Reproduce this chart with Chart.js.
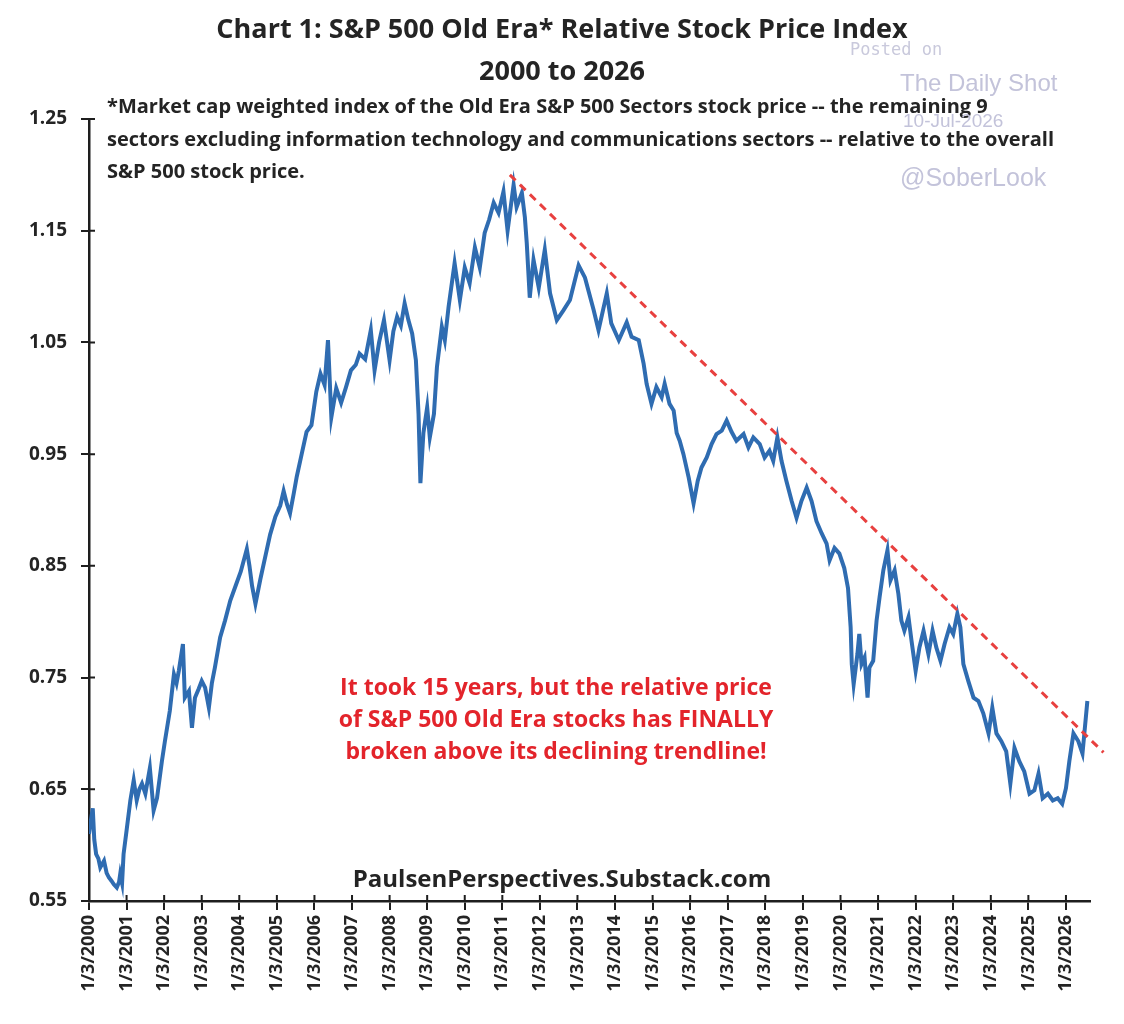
<!DOCTYPE html>
<html>
<head>
<meta charset="utf-8">
<script src="https://cdn.jsdelivr.net/npm/chart.js@4/dist/chart.umd.min.js"></script>
<style>
  body { margin: 0; background: #fff; }
  canvas { display: block; }
</style>
</head>
<body>
<canvas id="chart" width="1124" height="1024"></canvas>
<script>
// data (decimal year, relative index)
const dates = [
  2000.00, 2000.05, 2000.10, 2000.14, 2000.19, 2000.25, 2000.30, 2000.40, 2000.47, 2000.53,
  2000.60, 2000.66, 2000.74, 2000.80, 2000.83, 2000.88, 2000.92, 2001.00, 2001.10, 2001.19,
  2001.27, 2001.34, 2001.41, 2001.50, 2001.62, 2001.72, 2001.81, 2001.94, 2002.02, 2002.15,
  2002.26, 2002.33, 2002.39, 2002.50, 2002.55, 2002.66, 2002.74, 2002.82, 2002.92, 2003.00,
  2003.09, 2003.19, 2003.27, 2003.35, 2003.49, 2003.62, 2003.76, 2003.90, 2004.04, 2004.20,
  2004.27, 2004.34, 2004.43, 2004.56, 2004.69, 2004.82, 2004.96, 2005.09, 2005.18, 2005.27,
  2005.35, 2005.45, 2005.53, 2005.66, 2005.79, 2005.92, 2006.05, 2006.16, 2006.27, 2006.36,
  2006.45, 2006.58, 2006.71, 2006.84, 2006.97, 2007.10, 2007.20, 2007.35, 2007.50, 2007.60,
  2007.72, 2007.85, 2008.00, 2008.10, 2008.20, 2008.30, 2008.40, 2008.50, 2008.60, 2008.70,
  2008.77, 2008.82, 2008.90, 2009.00, 2009.07, 2009.18, 2009.26, 2009.39, 2009.47, 2009.57,
  2009.73, 2009.87, 2010.00, 2010.13, 2010.27, 2010.40, 2010.53, 2010.65, 2010.77, 2010.90,
  2011.03, 2011.14, 2011.30, 2011.38, 2011.52, 2011.60, 2011.65, 2011.73, 2011.83, 2011.97,
  2012.13, 2012.27, 2012.45, 2012.63, 2012.80, 2013.03, 2013.20, 2013.43, 2013.56, 2013.78,
  2013.90, 2014.10, 2014.31, 2014.44, 2014.63, 2014.76, 2014.84, 2014.97, 2015.10, 2015.24,
  2015.32, 2015.45, 2015.56, 2015.64, 2015.72, 2015.82, 2015.96, 2016.09, 2016.20, 2016.30,
  2016.44, 2016.57, 2016.70, 2016.84, 2016.97, 2017.10, 2017.23, 2017.42, 2017.55, 2017.68,
  2017.85, 2017.98, 2018.11, 2018.21, 2018.32, 2018.43, 2018.56, 2018.70, 2018.83, 2018.96,
  2019.10, 2019.23, 2019.36, 2019.50, 2019.63, 2019.71, 2019.84, 2019.97, 2020.10, 2020.20,
  2020.27, 2020.30, 2020.35, 2020.45, 2020.50, 2020.56, 2020.64, 2020.72, 2020.77, 2020.87,
  2020.96, 2021.04, 2021.14, 2021.25, 2021.33, 2021.44, 2021.54, 2021.62, 2021.70, 2021.81,
  2021.89, 2022.00, 2022.10, 2022.21, 2022.34, 2022.45, 2022.55, 2022.66, 2022.77, 2022.90,
  2023.00, 2023.11, 2023.19, 2023.27, 2023.40, 2023.54, 2023.67, 2023.80, 2023.94, 2024.04,
  2024.15, 2024.28, 2024.41, 2024.52, 2024.63, 2024.76, 2024.89, 2025.03, 2025.16, 2025.27,
  2025.38, 2025.52, 2025.65, 2025.78, 2025.90, 2026.00, 2026.09, 2026.20, 2026.33, 2026.44,
  2026.49, 2026.57
];
const relPrice = [
  0.610, 0.622, 0.633, 0.605, 0.592, 0.588, 0.580, 0.586, 0.575, 0.571,
  0.568, 0.565, 0.562, 0.567, 0.574, 0.566, 0.592, 0.613, 0.640, 0.658,
  0.640, 0.650, 0.655, 0.646, 0.669, 0.631, 0.642, 0.675, 0.693, 0.720,
  0.753, 0.745, 0.756, 0.780, 0.732, 0.738, 0.705, 0.732, 0.740, 0.747,
  0.741, 0.723, 0.745, 0.759, 0.786, 0.801, 0.819, 0.832, 0.845, 0.865,
  0.850, 0.832, 0.816, 0.838, 0.858, 0.878, 0.894, 0.904, 0.917, 0.905,
  0.897, 0.915, 0.930, 0.950, 0.970, 0.976, 1.006, 1.022, 1.012, 1.052,
  0.983, 1.009, 0.996, 1.010, 1.025, 1.030, 1.040, 1.035, 1.061, 1.025,
  1.050, 1.070, 1.034, 1.060, 1.073, 1.065, 1.085, 1.070, 1.058, 1.034,
  0.986, 0.924, 0.969, 0.992, 0.965, 0.986, 1.028, 1.064, 1.052, 1.082,
  1.121, 1.088, 1.117, 1.103, 1.135, 1.117, 1.148, 1.160, 1.175, 1.166,
  1.185, 1.150, 1.191, 1.171, 1.184, 1.162, 1.139, 1.090, 1.124, 1.099,
  1.133, 1.094, 1.070, 1.079, 1.088, 1.119, 1.108, 1.079, 1.061, 1.094,
  1.067, 1.052, 1.068, 1.055, 1.052, 1.031, 1.013, 0.995, 1.010, 1.001,
  1.013, 0.995, 0.989, 0.969, 0.962, 0.950, 0.929, 0.906, 0.926, 0.938,
  0.947, 0.959, 0.968, 0.971, 0.980, 0.970, 0.962, 0.968, 0.956, 0.965,
  0.959, 0.947, 0.953, 0.944, 0.965, 0.944, 0.926, 0.908, 0.893, 0.908,
  0.920, 0.908, 0.890, 0.879, 0.870, 0.855, 0.866, 0.861, 0.848, 0.830,
  0.795, 0.762, 0.744, 0.771, 0.789, 0.762, 0.768, 0.732, 0.759, 0.765,
  0.801, 0.822, 0.846, 0.864, 0.837, 0.846, 0.825, 0.801, 0.792, 0.804,
  0.783, 0.756, 0.777, 0.792, 0.771, 0.792, 0.777, 0.765, 0.780, 0.795,
  0.789, 0.807, 0.795, 0.762, 0.747, 0.732, 0.729, 0.718, 0.700, 0.723,
  0.700, 0.693, 0.684, 0.655, 0.687, 0.675, 0.666, 0.646, 0.649, 0.664,
  0.642, 0.646, 0.640, 0.642, 0.637, 0.651, 0.675, 0.700, 0.693, 0.682,
  0.700, 0.729
];

// declining trendline, two ends
const trendDates = [2011.2, 2027.0];
const trendValues = [1.200, 0.683];

const xTicks = [2000, 2001, 2002, 2003, 2004, 2005, 2006, 2007, 2008, 2009, 2010, 2011, 2012,
  2013, 2014, 2015, 2016, 2017, 2018, 2019, 2020, 2021, 2022, 2023, 2024, 2025, 2026];
const xTickLabels = ['1/3/2000', '1/3/2001', '1/3/2002', '1/3/2003', '1/3/2004', '1/3/2005',
  '1/3/2006', '1/3/2007', '1/3/2008', '1/3/2009', '1/3/2010', '1/3/2011', '1/3/2012',
  '1/3/2013', '1/3/2014', '1/3/2015', '1/3/2016', '1/3/2017', '1/3/2018', '1/3/2019',
  '1/3/2020', '1/3/2021', '1/3/2022', '1/3/2023', '1/3/2024', '1/3/2025', '1/3/2026'];
const yTicks = [0.55, 0.65, 0.75, 0.85, 0.95, 1.05, 1.15, 1.25];

const titleLines = ['Chart 1: S&P 500 Old Era* Relative Stock Price Index', '2000 to 2026'];
const noteLines = [
  '*Market cap weighted index of the Old Era S&P 500 Sectors stock price -- the remaining 9',
  'sectors excluding information technology and communications sectors -- relative to the overall',
  'S&P 500 stock price.'
];
const callout = [
  'It took 15 years, but the relative price',
  'of S&P 500 Old Era stocks has FINALLY',
  'broken above its declining trendline!'
];
const source = 'PaulsenPerspectives.Substack.com';

const FONT = "'Open Sans', 'Noto Sans', sans-serif";

const priceData = dates.map((d, i) => ({ x: d, y: relPrice[i] }));
const trendData = trendDates.map((d, i) => ({ x: d, y: trendValues[i] }));

// ticks that cross the axis lines
const crossTicks = {
  id: 'crossTicks',
  afterDatasetsDraw(chart) {
    const c = chart.ctx, a = chart.chartArea;
    const xs = chart.scales.x, ys = chart.scales.y;
    c.save();
    c.strokeStyle = '#1e1e1e';
    c.lineWidth = 2;
    c.beginPath();
    xTicks.forEach(t => { const p = xs.getPixelForValue(t); c.moveTo(p, a.bottom); c.lineTo(p, a.bottom - 6); });
    yTicks.forEach(t => { const p = ys.getPixelForValue(t); c.moveTo(a.left, p); c.lineTo(a.left + 6, p); });
    c.stroke();
    c.restore();
  }
};

// title, notes and watermark
const texts = {
  id: 'texts',
  afterDraw(chart) {
    const c = chart.ctx;
    c.save();
    c.textBaseline = 'middle';
    c.fillStyle = '#242424';
    c.textAlign = 'center';
    c.font = 'bold 27px ' + FONT;
    c.fillText(titleLines[0], 562, 30, 710);
    c.fillText(titleLines[1], 562, 72);

    c.textAlign = 'left';
    c.font = 'bold 20px ' + FONT;
    c.fillText(noteLines[0], 107, 107, 903);
    c.fillText(noteLines[1], 107, 140, 968);
    c.fillText(noteLines[2], 107, 172, 207);

    c.textAlign = 'center';
    c.fillStyle = '#e3242b';
    c.font = 'bold 23px ' + FONT;
    callout.forEach((s, i) => c.fillText(s, 556, 688 + i * 32, 442));

    c.fillStyle = '#242424';
    c.font = 'bold 24px ' + FONT;
    c.fillText(source, 562, 880, 421);

    // watermark
    c.textAlign = 'left';
    c.fillStyle = '#c9c9dc';
    c.font = "17px 'DejaVu Sans Mono', monospace";
    c.fillText('Posted on', 850, 51, 95);
    c.fillStyle = '#c3c3da';
    c.font = "24px 'Liberation Sans', Arial, sans-serif";
    c.fillText('The Daily Shot', 900, 84, 158);
    c.font = "19px 'Liberation Sans', Arial, sans-serif";
    c.fillText('10-Jul-2026', 903, 122, 107);
    c.font = "25px 'Liberation Sans', Arial, sans-serif";
    c.fillText('@SoberLook', 900, 179, 147);
    c.restore();
  }
};

new Chart(document.getElementById('chart'), {
  type: 'line',
  data: {
    datasets: [
      {
        data: trendData,
        borderColor: '#e8403f',
        borderWidth: 3,
        borderDash: [8, 6],
        pointRadius: 0,
        clip: false
      },
      {
        data: priceData,
        borderColor: '#2f6cb1',
        borderWidth: 4,
        pointRadius: 0,
        tension: 0
      }
    ]
  },
  options: {
    responsive: false,
    animation: false,
    layout: { padding: { top: 119, right: 34, bottom: 0, left: 0 } },
    plugins: { legend: { display: false }, tooltip: { enabled: false } },
    scales: {
      x: {
        type: 'linear',
        min: 2000,
        max: 2026.64,
        afterFit: s => { s.height = 123; },
        afterBuildTicks: s => { s.ticks = xTicks.map(v => ({ value: v })); },
        border: { color: '#1e1e1e', width: 2.5 },
        grid: { drawOnChartArea: false, tickLength: 9, color: '#1e1e1e', lineWidth: 2 },
        ticks: {
          minRotation: 90,
          maxRotation: 90,
          autoSkip: false,
          padding: 5,
          color: '#242424',
          font: { family: FONT, size: 18, weight: 'bold' },
          callback: (v) => xTickLabels[xTicks.indexOf(v)]
        }
      },
      y: {
        min: 0.55,
        max: 1.25,
        afterFit: s => { s.width = 89; },
        afterBuildTicks: s => { s.ticks = yTicks.map(v => ({ value: v })); },
        border: { color: '#1e1e1e', width: 2.5 },
        grid: { drawOnChartArea: false, tickLength: 8, color: '#1e1e1e', lineWidth: 2 },
        ticks: {
          padding: 14,
          color: '#242424',
          font: { family: FONT, size: 19, weight: 'bold' },
          callback: v => v.toFixed(2)
        }
      }
    }
  },
  plugins: [crossTicks, texts]
});
</script>
</body>
</html>
